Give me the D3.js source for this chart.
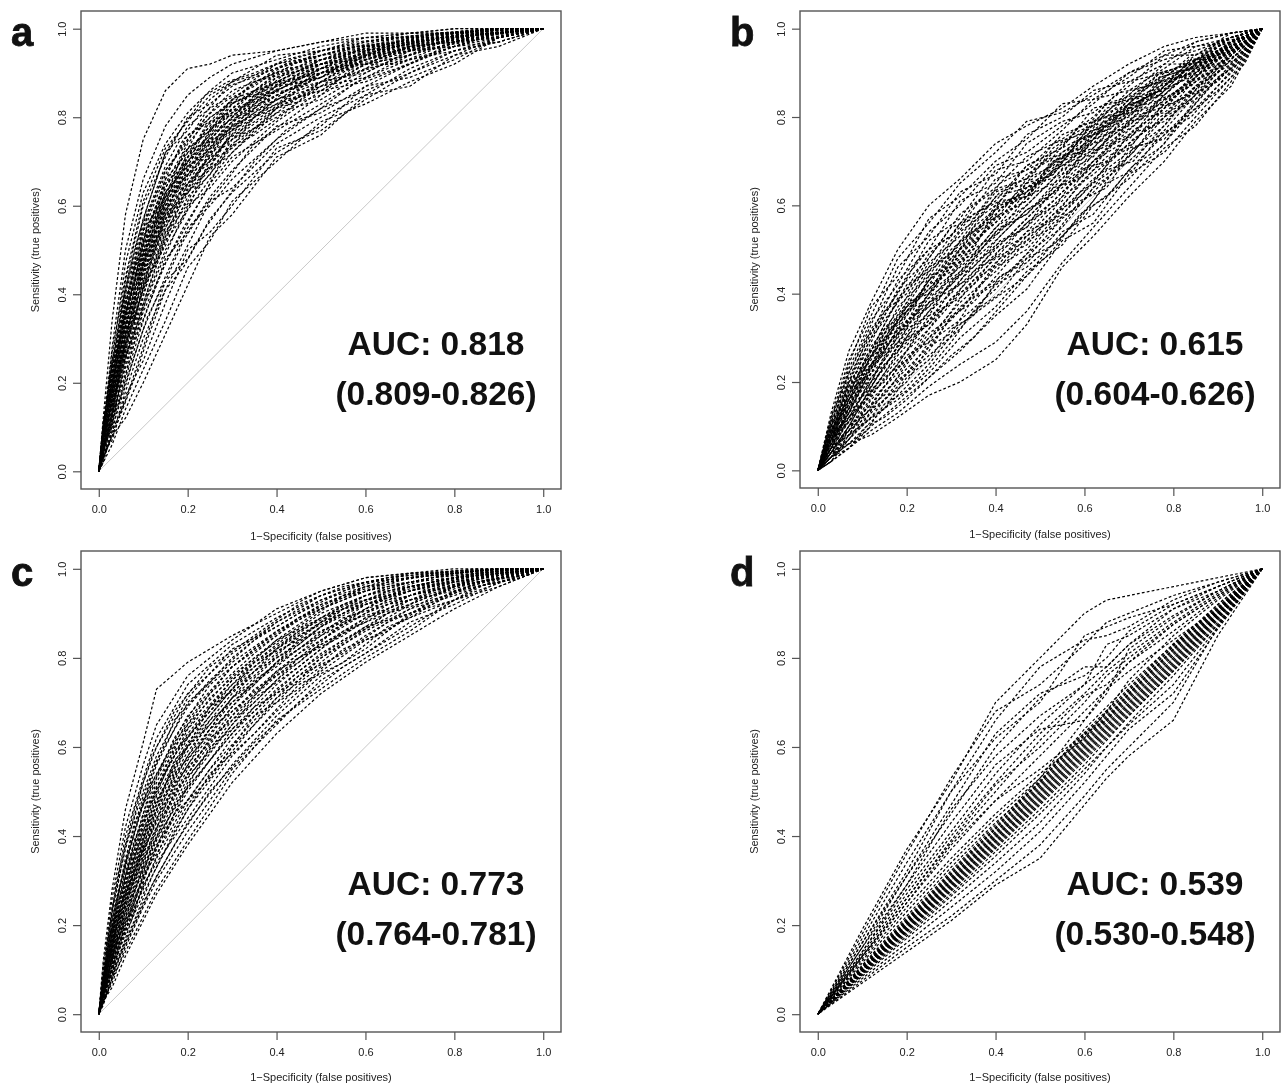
<!DOCTYPE html>
<html>
<head>
<meta charset="utf-8">
<script src="https://cdn.jsdelivr.net/npm/d3@7"></script>
<style>
html, body { margin: 0; padding: 0; background: #fff; }
svg { display: block; filter: blur(0.45px); }
</style>
</head>
<body>
<div id="chart"></div>
<script>
// false positive rates where the curves were read, (0,0) and (1,1) are added when drawing
// each panel has two sets of curves read at different rates
const fprA = [.01,.03,.06,.1,.15,.2,.25,.3,.4,.5,.6,.7,.8,.9];
const tprA = [
[.12,.34,.58,.75,.86,.91,.92,.94,.95,.97,.99,.99,1,1],
[.10,.28,.50,.66,.78,.85,.89,.92,.95,.97,.98,.99,1,1],
[.11,.25,.47,.63,.74,.81,.86,.90,.93,.96,.98,.99,.99,1],
[.09,.27,.44,.61,.73,.79,.85,.88,.94,.95,.97,.99,.99,1],
[.08,.24,.43,.60,.71,.80,.83,.87,.92,.95,.98,.98,.99,1],
[.10,.22,.42,.57,.72,.77,.84,.88,.91,.94,.97,.98,.99,1],
[.07,.23,.41,.56,.69,.78,.82,.85,.92,.94,.96,.98,.99,1],
[.09,.21,.40,.55,.68,.75,.81,.86,.90,.93,.96,.97,.99,1],
[.08,.20,.38,.54,.67,.76,.79,.84,.91,.94,.95,.98,.98,1],
[.06,.21,.37,.53,.65,.74,.80,.83,.89,.92,.96,.97,.99,.99],
[.09,.19,.39,.52,.66,.72,.78,.84,.88,.93,.95,.97,.98,1],
[.07,.18,.36,.51,.64,.73,.77,.82,.90,.92,.94,.98,.98,.99],
[.08,.20,.35,.50,.63,.71,.79,.81,.87,.91,.95,.96,.98,.99],
[.05,.17,.34,.51,.62,.70,.76,.83,.88,.90,.94,.97,.98,1],
[.07,.19,.36,.49,.61,.72,.75,.80,.89,.92,.93,.96,.99,.99],
[.06,.18,.33,.48,.63,.69,.77,.81,.86,.91,.94,.96,.97,.99],
[.08,.16,.34,.47,.60,.70,.74,.79,.87,.89,.95,.97,.98,.99],
[.05,.17,.32,.49,.59,.68,.75,.80,.85,.90,.93,.95,.98,.99],
[.07,.15,.31,.46,.61,.67,.73,.78,.86,.91,.92,.96,.97,1],
[.06,.16,.33,.45,.58,.69,.72,.79,.84,.88,.94,.95,.98,.99],
[.04,.14,.30,.47,.57,.66,.74,.77,.85,.89,.93,.96,.97,.99],
[.06,.17,.29,.44,.59,.65,.71,.78,.83,.90,.92,.94,.98,.99],
[.05,.13,.31,.43,.56,.67,.70,.76,.84,.87,.91,.96,.97,.98],
[.07,.15,.28,.45,.55,.64,.72,.75,.82,.88,.93,.95,.96,.99],
[.04,.14,.27,.42,.57,.63,.69,.77,.83,.86,.92,.94,.97,.99],
[.05,.12,.29,.41,.53,.65,.68,.74,.81,.88,.90,.95,.98,.98],
[.06,.13,.26,.40,.54,.61,.70,.73,.82,.85,.91,.93,.96,.99],
[.04,.11,.25,.42,.51,.62,.67,.75,.80,.87,.89,.94,.97,.98],
[.03,.12,.24,.38,.52,.59,.66,.72,.81,.84,.90,.95,.96,.98],
[.05,.10,.26,.37,.49,.60,.64,.70,.79,.86,.88,.92,.97,.99],
[.04,.13,.22,.36,.47,.56,.65,.71,.77,.83,.89,.93,.95,.98],
[.03,.09,.21,.34,.48,.54,.62,.68,.78,.81,.87,.92,.96,.97],
[.05,.11,.20,.32,.44,.55,.60,.66,.75,.82,.86,.90,.94,.98],
[.03,.08,.18,.30,.41,.51,.61,.64,.74,.80,.85,.91,.95,.97],
[.02,.09,.16,.28,.43,.48,.57,.63,.72,.78,.87,.89,.93,.98],
[.04,.07,.17,.25,.38,.50,.54,.60,.73,.77,.84,.90,.95,.97],
[.02,.06,.14,.23,.34,.46,.52,.61,.70,.79,.83,.88,.92,.98],
[.03,.08,.12,.20,.31,.42,.53,.58,.71,.76,.85,.87,.94,.96]
];
const fprA2 = [.01,.03,.05,.08,.11,.15,.19,.24,.29,.35,.42,.5,.58,.67,.77,.88];
const tprA2 = [
[.10,.24,.36,.50,.60,.72,.78,.85,.88,.90,.93,.95,.97,.98,.99,1],
[.09,.25,.33,.47,.58,.68,.73,.81,.87,.89,.92,.94,.96,.98,.99,1],
[.11,.22,.34,.45,.54,.66,.75,.79,.83,.88,.91,.95,.96,.97,.99,1],
[.08,.23,.31,.46,.55,.64,.71,.80,.84,.87,.92,.93,.95,.98,.99,.995],
[.09,.21,.32,.43,.56,.62,.72,.76,.82,.88,.90,.94,.96,.97,.98,1],
[.07,.22,.30,.44,.52,.65,.69,.78,.81,.86,.91,.92,.95,.97,.99,.995],
[.10,.19,.31,.42,.53,.61,.70,.75,.83,.85,.89,.93,.96,.96,.98,1],
[.08,.20,.28,.41,.51,.63,.68,.77,.80,.86,.88,.93,.94,.97,.98,.99],
[.06,.21,.29,.40,.52,.60,.69,.74,.81,.84,.90,.91,.95,.97,.985,.995],
[.09,.18,.30,.39,.50,.62,.66,.75,.79,.85,.88,.92,.94,.96,.98,1],
[.07,.19,.27,.41,.49,.59,.67,.73,.80,.83,.89,.91,.95,.96,.98,.99],
[.08,.17,.28,.38,.51,.58,.68,.72,.78,.84,.87,.92,.93,.97,.98,.995],
[.06,.18,.26,.39,.48,.60,.65,.74,.77,.85,.86,.90,.94,.96,.975,.99],
[.07,.16,.27,.37,.47,.57,.66,.71,.79,.82,.88,.90,.93,.96,.98,.99],
[.05,.17,.25,.38,.49,.56,.63,.72,.76,.83,.87,.89,.94,.95,.97,.995],
[.08,.15,.24,.36,.46,.58,.62,.70,.77,.81,.85,.91,.92,.96,.98,.99],
[.06,.16,.26,.34,.45,.55,.64,.69,.75,.82,.86,.89,.93,.95,.97,.99],
[.05,.14,.23,.35,.44,.54,.61,.70,.74,.80,.86,.88,.93,.96,.97,.985],
[.06,.15,.22,.32,.43,.52,.62,.67,.75,.79,.84,.90,.91,.95,.97,.99],
[.04,.13,.23,.31,.41,.53,.59,.66,.72,.80,.83,.87,.92,.94,.98,.99],
[.05,.12,.20,.30,.40,.50,.57,.68,.71,.77,.84,.86,.91,.95,.96,.985],
[.04,.11,.18,.29,.37,.47,.55,.63,.73,.76,.81,.88,.90,.93,.97,.98],
[.03,.10,.16,.26,.35,.43,.52,.60,.66,.74,.79,.85,.92,.92,.96,.98],
[.03,.08,.13,.21,.30,.41,.46,.55,.62,.70,.77,.82,.88,.91,.95,.985]
];

const fprB = [.03,.07,.12,.18,.25,.32,.4,.47,.55,.62,.7,.78,.85,.93];
const tprB = [
[.13,.27,.38,.50,.60,.66,.74,.78,.82,.87,.92,.96,.98,.99],
[.12,.25,.35,.48,.56,.65,.72,.79,.81,.85,.90,.94,.97,.99],
[.11,.24,.37,.44,.57,.62,.70,.75,.83,.84,.89,.95,.96,.98],
[.12,.22,.33,.46,.53,.63,.67,.76,.80,.86,.88,.92,.97,.99],
[.10,.23,.34,.42,.54,.60,.69,.72,.78,.83,.90,.93,.95,.98],
[.09,.21,.31,.43,.50,.61,.65,.74,.79,.81,.87,.94,.94,.99],
[.11,.20,.32,.40,.52,.57,.68,.70,.77,.84,.86,.91,.96,.97],
[.10,.19,.29,.41,.48,.58,.64,.71,.75,.80,.88,.90,.93,.98],
[.08,.20,.30,.38,.49,.55,.66,.68,.76,.79,.85,.92,.92,.97],
[.10,.18,.27,.39,.46,.56,.61,.69,.73,.82,.84,.89,.94,.98],
[.09,.17,.28,.36,.47,.53,.63,.66,.74,.78,.86,.88,.93,.96],
[.07,.18,.25,.37,.44,.54,.60,.67,.72,.77,.83,.90,.91,.97],
[.09,.16,.26,.34,.45,.51,.62,.64,.70,.79,.82,.87,.92,.98],
[.08,.17,.24,.35,.42,.52,.58,.65,.71,.75,.84,.86,.93,.96],
[.07,.15,.26,.33,.43,.50,.59,.62,.72,.76,.81,.88,.90,.97],
[.08,.16,.23,.34,.41,.48,.60,.63,.69,.74,.83,.85,.91,.95],
[.06,.14,.24,.31,.40,.49,.56,.64,.67,.77,.80,.87,.92,.96],
[.09,.15,.22,.32,.38,.47,.57,.61,.70,.73,.82,.84,.89,.97],
[.07,.13,.23,.30,.39,.45,.55,.60,.68,.72,.79,.86,.90,.95],
[.05,.14,.21,.29,.40,.46,.53,.62,.66,.75,.78,.85,.91,.96],
[.08,.12,.20,.31,.37,.44,.54,.58,.67,.71,.81,.83,.88,.94],
[.06,.13,.19,.28,.36,.45,.52,.59,.64,.70,.77,.84,.89,.96],
[.05,.11,.21,.27,.38,.42,.50,.57,.65,.72,.76,.82,.90,.95],
[.07,.12,.18,.26,.34,.43,.51,.55,.63,.69,.79,.81,.87,.94],
[.04,.10,.19,.28,.33,.41,.49,.56,.61,.70,.75,.83,.88,.93],
[.06,.11,.17,.24,.35,.39,.47,.54,.62,.67,.74,.80,.89,.95],
[.05,.09,.18,.25,.32,.40,.48,.52,.60,.68,.73,.82,.86,.94],
[.04,.10,.15,.23,.30,.38,.45,.53,.58,.65,.76,.79,.85,.93],
[.05,.08,.16,.22,.31,.36,.46,.50,.59,.66,.72,.78,.87,.92],
[.03,.09,.14,.21,.28,.37,.43,.48,.57,.63,.71,.80,.84,.94],
[.04,.07,.13,.19,.29,.34,.41,.49,.55,.64,.70,.77,.85,.91],
[.03,.08,.12,.20,.26,.32,.42,.46,.53,.61,.73,.75,.83,.92],
[.04,.06,.11,.17,.24,.33,.39,.44,.54,.58,.68,.76,.82,.90],
[.02,.07,.12,.16,.22,.30,.37,.45,.51,.60,.66,.74,.84,.91],
[.03,.05,.10,.15,.21,.27,.35,.41,.52,.56,.67,.72,.80,.89],
[.02,.05,.09,.13,.19,.24,.29,.36,.47,.55,.64,.73,.78,.88],
[.03,.06,.08,.12,.17,.20,.25,.33,.46,.53,.62,.70,.79,.87]
];
const fprB2 = [.03,.07,.11,.15,.2,.25,.3,.35,.41,.47,.53,.59,.65,.71,.77,.84,.9,.96];
const tprB2 = [
[.10,.22,.30,.35,.44,.50,.53,.60,.64,.66,.74,.76,.83,.85,.90,.92,.97,.99],
[.09,.18,.28,.36,.40,.48,.55,.57,.65,.68,.71,.78,.80,.86,.88,.94,.95,.99],
[.08,.20,.25,.33,.42,.45,.52,.58,.61,.69,.72,.75,.82,.84,.90,.92,.96,.98],
[.07,.17,.26,.31,.38,.46,.49,.56,.63,.65,.73,.77,.79,.85,.89,.91,.97,.98],
[.09,.15,.24,.32,.36,.43,.50,.54,.58,.66,.69,.74,.81,.83,.86,.93,.94,.99],
[.06,.16,.22,.29,.37,.41,.47,.55,.60,.62,.70,.72,.78,.84,.87,.90,.95,.98],
[.08,.14,.23,.27,.35,.42,.45,.51,.59,.64,.67,.75,.77,.81,.88,.91,.94,.97],
[.05,.15,.20,.28,.33,.40,.46,.49,.56,.63,.68,.71,.79,.82,.85,.92,.93,.98],
[.07,.13,.21,.25,.34,.37,.44,.50,.54,.60,.66,.73,.75,.83,.86,.89,.95,.97],
[.06,.14,.18,.26,.31,.38,.42,.48,.55,.58,.64,.70,.76,.80,.87,.90,.93,.98],
[.04,.12,.19,.23,.32,.35,.43,.46,.53,.59,.62,.71,.74,.78,.84,.91,.92,.97],
[.07,.11,.17,.24,.29,.36,.40,.47,.51,.57,.63,.68,.75,.79,.83,.88,.94,.96],
[.05,.12,.16,.22,.30,.33,.41,.44,.52,.55,.64,.66,.72,.80,.82,.89,.92,.97],
[.04,.10,.17,.20,.27,.34,.38,.45,.49,.56,.61,.67,.73,.76,.84,.87,.93,.96],
[.06,.09,.15,.21,.25,.32,.39,.42,.50,.53,.59,.68,.70,.77,.81,.88,.91,.97],
[.03,.10,.13,.19,.26,.29,.36,.43,.47,.54,.57,.65,.71,.74,.82,.85,.92,.95],
[.05,.08,.14,.17,.24,.30,.34,.40,.48,.51,.58,.62,.69,.75,.79,.86,.90,.96],
[.04,.09,.12,.18,.22,.27,.35,.38,.45,.52,.55,.63,.67,.72,.80,.84,.91,.94],
[.03,.07,.13,.16,.20,.28,.31,.39,.43,.49,.56,.60,.68,.70,.77,.85,.88,.95],
[.02,.08,.11,.14,.21,.25,.32,.35,.44,.47,.53,.61,.64,.73,.75,.82,.89,.93],
[.03,.06,.09,.15,.18,.23,.29,.36,.40,.48,.51,.57,.65,.68,.76,.80,.87,.94],
[.02,.05,.10,.12,.16,.21,.26,.30,.37,.44,.50,.58,.62,.69,.73,.81,.86,.92],
[.08,.19,.24,.31,.35,.43,.47,.54,.60,.63,.70,.73,.79,.82,.88,.90,.96,.98],
[.07,.16,.25,.28,.38,.40,.49,.52,.57,.65,.67,.75,.77,.84,.85,.92,.94,.98],
[.06,.18,.21,.30,.33,.44,.46,.53,.58,.61,.71,.72,.80,.81,.89,.91,.95,.99],
[.05,.13,.22,.27,.36,.39,.48,.50,.61,.62,.68,.76,.78,.83,.86,.93,.93,.97]
];

const fprC = [.01,.03,.06,.1,.13,.2,.3,.4,.5,.6,.7,.8,.9];
const tprC = [
[.12,.28,.46,.61,.73,.79,.85,.90,.95,.98,.99,.995,1],
[.10,.26,.42,.56,.65,.76,.84,.91,.95,.98,.99,1,1],
[.11,.23,.40,.53,.62,.74,.83,.89,.94,.97,.99,.995,1],
[.09,.24,.37,.52,.60,.72,.81,.88,.94,.97,.98,.995,1],
[.08,.22,.38,.50,.58,.71,.82,.87,.93,.96,.99,.99,1],
[.09,.20,.35,.49,.57,.69,.80,.88,.93,.97,.98,.99,1],
[.07,.21,.34,.47,.56,.70,.79,.86,.92,.96,.98,.99,1],
[.08,.19,.33,.48,.54,.67,.78,.85,.92,.95,.98,.99,1],
[.06,.18,.32,.45,.53,.66,.78,.86,.91,.96,.97,.99,.995],
[.07,.19,.30,.44,.52,.65,.76,.84,.91,.95,.97,.99,1],
[.08,.17,.31,.43,.50,.64,.75,.83,.90,.94,.97,.98,.995],
[.06,.16,.29,.42,.51,.63,.75,.84,.89,.94,.96,.98,1],
[.07,.18,.28,.40,.49,.62,.74,.82,.89,.93,.96,.98,.99],
[.05,.15,.29,.41,.48,.61,.73,.81,.88,.94,.97,.98,.995],
[.06,.16,.27,.39,.47,.60,.72,.82,.88,.92,.96,.98,.99],
[.07,.14,.26,.38,.46,.59,.71,.80,.87,.93,.95,.975,.995],
[.05,.15,.27,.37,.45,.58,.70,.79,.87,.92,.95,.98,.99],
[.06,.14,.25,.36,.44,.57,.71,.78,.86,.91,.96,.97,.99],
[.04,.13,.24,.37,.43,.56,.69,.79,.85,.92,.95,.975,.99],
[.06,.12,.25,.35,.42,.55,.68,.77,.85,.90,.94,.97,.99],
[.05,.13,.23,.34,.41,.54,.67,.76,.84,.91,.94,.97,.985],
[.04,.12,.22,.33,.40,.53,.66,.77,.83,.89,.93,.96,.99],
[.05,.11,.23,.32,.39,.52,.65,.75,.83,.88,.94,.965,.985],
[.06,.10,.21,.31,.38,.50,.64,.74,.82,.89,.92,.96,.98],
[.04,.11,.20,.30,.37,.51,.63,.73,.81,.87,.93,.95,.985],
[.03,.10,.19,.31,.36,.48,.62,.72,.80,.86,.91,.96,.98],
[.05,.09,.20,.28,.35,.47,.60,.70,.80,.87,.90,.95,.98],
[.04,.10,.18,.27,.33,.46,.59,.71,.78,.85,.91,.94,.975],
[.03,.08,.17,.29,.34,.44,.58,.68,.77,.84,.89,.95,.97],
[.04,.09,.16,.25,.31,.43,.56,.67,.76,.82,.90,.93,.98],
[.03,.07,.15,.24,.30,.41,.55,.65,.75,.81,.88,.92,.97],
[.02,.08,.14,.22,.28,.39,.54,.66,.73,.80,.86,.93,.96],
[.03,.06,.13,.21,.27,.38,.52,.63,.72,.79,.85,.91,.96]
];
const fprC2 = [.02,.04,.08,.12,.17,.25,.35,.45,.55,.65,.75,.85,.95];
const tprC2 = [
[.16,.30,.46,.58,.68,.78,.85,.92,.96,.98,.99,.995,1],
[.15,.26,.41,.54,.66,.75,.84,.90,.95,.98,.99,1,1],
[.14,.25,.43,.51,.62,.74,.82,.89,.94,.97,.99,.995,1],
[.13,.24,.38,.52,.61,.72,.81,.89,.93,.97,.985,.995,1],
[.12,.22,.39,.48,.60,.71,.80,.87,.94,.96,.98,.99,1],
[.13,.23,.36,.49,.58,.69,.79,.86,.92,.96,.98,.995,1],
[.11,.21,.35,.47,.59,.68,.78,.86,.91,.95,.98,.99,1],
[.12,.20,.34,.45,.56,.67,.79,.84,.92,.94,.97,.99,1],
[.10,.22,.32,.46,.55,.69,.76,.85,.90,.95,.97,.99,.995],
[.11,.19,.33,.43,.57,.65,.77,.83,.91,.93,.97,.985,.995],
[.09,.20,.31,.44,.53,.66,.74,.84,.88,.94,.96,.985,1],
[.10,.18,.32,.41,.54,.63,.75,.82,.89,.92,.96,.98,.995],
[.09,.17,.29,.42,.51,.64,.72,.81,.87,.93,.95,.98,.99],
[.08,.18,.30,.39,.52,.61,.73,.79,.88,.91,.95,.975,.995],
[.09,.16,.27,.40,.49,.62,.70,.80,.85,.92,.94,.98,.99],
[.07,.15,.28,.37,.50,.59,.71,.78,.86,.90,.94,.97,.99],
[.08,.16,.25,.38,.46,.60,.68,.77,.84,.89,.95,.97,.985],
[.07,.14,.26,.35,.47,.57,.69,.75,.83,.90,.93,.965,.99],
[.06,.15,.23,.36,.44,.55,.66,.76,.81,.88,.92,.97,.985],
[.06,.13,.24,.33,.45,.53,.67,.73,.82,.86,.93,.96,.98],
[.05,.12,.21,.31,.41,.54,.63,.74,.79,.87,.91,.95,.985],
[.05,.11,.20,.29,.38,.50,.61,.70,.78,.84,.90,.96,.98]
];

const fprD = [.1,.2,.3,.4,.5,.6,.65,.7,.8,.9];
const tprD = [
[.19,.37,.52,.70,.80,.90,.93,.94,.96,.98],
[.18,.36,.53,.68,.74,.83,.88,.90,.94,.97],
[.17,.34,.50,.66,.78,.84,.85,.87,.93,.97],
[.16,.32,.50,.62,.70,.85,.87,.89,.92,.96],
[.16,.31,.47,.63,.72,.76,.80,.86,.92,.96],
[.15,.31,.45,.60,.71,.78,.78,.83,.91,.95],
[.15,.29,.46,.58,.67,.74,.83,.85,.91,.96],
[.14,.29,.43,.56,.64,.66,.72,.82,.89,.95],
[.14,.28,.41,.54,.65,.74,.78,.83,.895,.95],
[.135,.27,.40,.52,.63,.72,.77,.81,.88,.945],
[.13,.26,.39,.515,.60,.70,.76,.80,.875,.94],
[.13,.26,.385,.50,.615,.715,.74,.79,.875,.94],
[.125,.25,.37,.48,.58,.68,.73,.79,.86,.935],
[.13,.25,.38,.48,.55,.63,.66,.72,.82,.92],
[.12,.24,.35,.45,.54,.62,.68,.75,.85,.93],
[.115,.23,.34,.44,.53,.66,.73,.77,.84,.91],
[.11,.22,.33,.43,.52,.64,.69,.74,.83,.92],
[.108,.215,.322,.425,.53,.632,.682,.732,.832,.915],
[.106,.212,.318,.42,.525,.628,.678,.728,.828,.912],
[.105,.21,.315,.418,.522,.625,.675,.725,.825,.91],
[.104,.208,.312,.415,.518,.62,.67,.72,.82,.908],
[.103,.206,.308,.41,.514,.616,.667,.717,.817,.906],
[.102,.204,.305,.407,.51,.612,.663,.713,.813,.904],
[.101,.202,.302,.404,.506,.608,.659,.709,.809,.902],
[.10,.20,.30,.40,.502,.604,.655,.705,.805,.90],
[.099,.198,.297,.397,.498,.60,.65,.70,.80,.898],
[.098,.196,.294,.394,.494,.596,.646,.696,.796,.896],
[.097,.194,.291,.39,.49,.592,.642,.692,.792,.894],
[.096,.192,.288,.387,.486,.588,.638,.688,.788,.892],
[.095,.19,.285,.384,.482,.584,.634,.684,.784,.89],
[.094,.188,.282,.38,.478,.58,.63,.68,.78,.888],
[.093,.186,.279,.376,.474,.575,.625,.675,.776,.885],
[.092,.184,.276,.372,.47,.57,.62,.67,.772,.88],
[.09,.18,.27,.365,.46,.56,.615,.67,.77,.875],
[.088,.175,.265,.355,.45,.55,.60,.655,.76,.875],
[.085,.17,.255,.34,.43,.54,.60,.65,.74,.87],
[.08,.16,.24,.32,.41,.52,.58,.64,.72,.865],
[.075,.15,.22,.30,.38,.49,.55,.60,.70,.87],
[.07,.14,.21,.29,.35,.47,.53,.58,.66,.85]
];

const xTicks = [0, 0.2, 0.4, 0.6, 0.8, 1];
const yTicks = [0, 0.2, 0.4, 0.6, 0.8, 1];
const panelNames = ["a", "b", "c", "d"];
const aucLabels = ["AUC: 0.818", "AUC: 0.615", "AUC: 0.773", "AUC: 0.539"];
const ciLabels = ["(0.809-0.826)", "(0.604-0.626)", "(0.764-0.781)", "(0.530-0.548)"];

const svg = d3.select("#chart")
    .append("svg")
    .attr("width", 1282)
    .attr("height", 1085)
    .style("font-family", "'Liberation Sans', Arial, sans-serif");

function drawPanel(i, sets, left, top, boxH, xLabelY) {
    const boxW = 480;
    const g = svg.append("g");
    const x = d3.scaleLinear().domain([-0.04, 1.04]).range([left, left + boxW]);
    const y = d3.scaleLinear().domain([-0.04, 1.04]).range([top + boxH, top]);

    // chance line
    g.append("line")
        .attr("x1", x(0)).attr("y1", y(0))
        .attr("x2", x(1)).attr("y2", y(1))
        .attr("stroke", "#c8c8c8")
        .attr("stroke-width", 1);

    const line = d3.line()
        .x(d => x(d[0]))
        .y(d => y(d[1]));

    // drawn from (1,1) down to (0,0) so the dashes line up at the top right corner
    sets.forEach(([fpr, tpr]) => {
        tpr.forEach(row => {
            const pts = [[0, 0]].concat(row.map((v, k) => [fpr[k], v]), [[1, 1]]).reverse();
            g.append("path")
                .datum(pts)
                .attr("fill", "none")
                .attr("stroke", "#000")
                .attr("stroke-width", 1.2)
                .attr("stroke-dasharray", "2.8,2.2")
                .attr("d", line);
        });
    });

    g.append("rect")
        .attr("x", left).attr("y", top)
        .attr("width", boxW).attr("height", boxH)
        .attr("fill", "none")
        .attr("stroke", "#555")
        .attr("stroke-width", 1.4);

    const xAxis = g.append("g")
        .attr("transform", `translate(0,${top + boxH})`)
        .call(d3.axisBottom(x).tickValues(xTicks).tickFormat(d3.format(".1f")).tickSize(8).tickPadding(8));
    const yAxis = g.append("g")
        .attr("transform", `translate(${left},0)`)
        .call(d3.axisLeft(y).tickValues(yTicks).tickFormat(d3.format(".1f")).tickSize(8).tickPadding(0));
    xAxis.select(".domain").remove();
    yAxis.select(".domain").remove();
    xAxis.selectAll("line").attr("stroke", "#555").attr("stroke-width", 1.2);
    yAxis.selectAll("line").attr("stroke", "#555").attr("stroke-width", 1.2);
    xAxis.selectAll("text").attr("font-size", 11).attr("fill", "#222").attr("font-family", "inherit");
    yAxis.selectAll("text")
        .attr("font-size", 11).attr("fill", "#222").attr("font-family", "inherit")
        .attr("text-anchor", "middle").attr("dy", 0).attr("x", 0)
        .attr("transform", "translate(-15,0) rotate(-90)");

    g.append("text")
        .attr("x", left + boxW / 2).attr("y", xLabelY - 0.5)
        .attr("text-anchor", "middle")
        .attr("font-size", 11).attr("fill", "#222")
        .text("1\u2212Specificity (false positives)");
    g.append("text")
        .attr("transform", `translate(${left - 42},${y(0.5)}) rotate(-90)`)
        .attr("text-anchor", "middle")
        .attr("font-size", 11).attr("fill", "#222")
        .text("Sensitivity (true positives)");

    g.append("text")
        .attr("x", left - 70).attr("y", top + 35)
        .attr("font-size", 40).attr("font-weight", "bold").attr("fill", "#111")
        .attr("stroke", "#111").attr("stroke-width", 0.8)
        .text(panelNames[i]);

    g.append("text")
        .attr("x", left + 355).attr("y", top + 344)
        .attr("text-anchor", "middle")
        .attr("font-size", 33.5).attr("font-weight", "bold").attr("fill", "#111")
        .text(aucLabels[i]);
    g.append("text")
        .attr("x", left + 355).attr("y", top + 394)
        .attr("text-anchor", "middle")
        .attr("font-size", 33.5).attr("font-weight", "bold").attr("fill", "#111")
        .text(ciLabels[i]);
}

drawPanel(0, [[fprA, tprA], [fprA2, tprA2]], 81, 11, 478, 540);
drawPanel(1, [[fprB, tprB], [fprB2, tprB2]], 800, 11, 477, 538);
drawPanel(2, [[fprC, tprC], [fprC2, tprC2]], 81, 551, 481, 1081);
drawPanel(3, [[fprD, tprD]], 800, 551, 481, 1081);
</script>
</body>
</html>
